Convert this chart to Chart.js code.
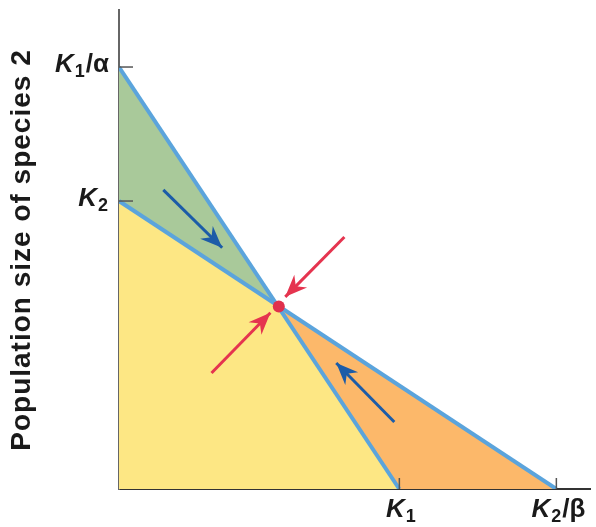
<!DOCTYPE html>
<html>
<head>
<meta charset="utf-8">
<script src="https://cdn.jsdelivr.net/npm/chart.js@4"></script>
<style>
  html, body { margin: 0; padding: 0; background: #fff; }
  #wrap { width: 596px; height: 527px; }
</style>
</head>
<body>
<div id="wrap"><canvas id="chart" width="596" height="527"></canvas></div>
<script>
// Axis extent and key carrying capacities (population units)
const axisMax = 168;
const K1 = 100;          // species 1 carrying capacity (x intercept of isocline 1)
const K2overBeta = 156;  // x intercept of isocline 2
const K1overAlpha = 148; // y intercept of isocline 1
const K2 = 101;          // y intercept of isocline 2
const equilibrium = [{ x: 57, y: 64 }];

// Isoclines
const isocline1 = [{ x: 0, y: K1overAlpha }, { x: K1, y: 0 }];
const isocline2 = [{ x: 0, y: K2 }, { x: K2overBeta, y: 0 }];

// Shaded regions (upper boundary, filled down to the x axis)
const greenEdge = [{ x: 0, y: K1overAlpha }, { x: 57, y: 64 }];
const orangeEdge = [{ x: 57, y: 64 }, { x: K2overBeta, y: 0 }];
const yellowEdge = [{ x: 0, y: K2 }, { x: 57, y: 64 }, { x: K1, y: 0 }];

// Arrows: start -> tip
const blueArrows = [
    [{ x: 15.8, y: 104.9 }, { x: 36.8, y: 84.6 }],
    [{ x: 98.2, y: 23.5 }, { x: 77.5, y: 44.2 }]
];
const redArrows = [
    [{ x: 80.4, y: 88.4 }, { x: 59.3, y: 67.4 }],
    [{ x: 33.0, y: 40.7 }, { x: 54.0, y: 61.8 }]
];

// Tick labels: [main, subscript, suffix]
const xTickValues = [K1, K2overBeta];
const xTickLabels = [['K', '1', ''], ['K', '2', '/\u03B2']];
const yTickValues = [K1overAlpha, K2];
const yTickLabels = [['K', '1', '/\u03B1'], ['K', '2', '']];
const yTitle = 'Population size of species 2';

const FONT = '"Liberation Sans", Arial, sans-serif';
const lineBlue = '#5ba4dc';
const arrowBlue = '#1c5ca8';
const arrowRed = '#e5344f';

function drawRich(ctx, parts, x, y, align) {
    const fonts = ['italic bold 26px ' + FONT, 'bold 18px ' + FONT, 'bold 26px ' + FONT];
    const offsets = [0, 5, 0];
    const gaps = [1, 1, 0];
    let widths = parts.map((t, i) => { ctx.font = fonts[i]; return t ? ctx.measureText(t).width + gaps[i] : 0; });
    const total = widths.reduce((a, b) => a + b, 0);
    let cx = align === 'right' ? x - total : x - total / 2;
    ctx.textBaseline = 'alphabetic';
    ctx.textAlign = 'left';
    parts.forEach((t, i) => {
        if (!t) return;
        ctx.font = fonts[i];
        ctx.fillText(t, cx, y + offsets[i]);
        cx += widths[i];
    });
}

function drawHead(ctx, from, to, color) {
    const ang = Math.atan2(to.y - from.y, to.x - from.x);
    const len = 22, half = 9, notch = 7;
    ctx.save();
    ctx.translate(to.x, to.y);
    ctx.rotate(ang);
    ctx.fillStyle = color;
    ctx.beginPath();
    ctx.moveTo(0, 0);
    ctx.lineTo(-len, -half);
    ctx.lineTo(-len + notch, 0);
    ctx.lineTo(-len, half);
    ctx.closePath();
    ctx.fill();
    ctx.restore();
}

const decorPlugin = {
    id: 'decor',
    afterDatasetsDraw(chart) {
        const ctx = chart.ctx;
        const xs = chart.scales.x, ys = chart.scales.y;
        const area = chart.chartArea;
        ctx.save();
        // arrowheads
        const px = p => ({ x: xs.getPixelForValue(p.x), y: ys.getPixelForValue(p.y) });
        blueArrows.forEach(a => drawHead(ctx, px(a[0]), px(a[1]), arrowBlue));
        redArrows.forEach(a => drawHead(ctx, px(a[0]), px(a[1]), arrowRed));

        // tick marks
        ctx.strokeStyle = '#555';
        ctx.lineWidth = 1.5;
        yTickValues.forEach(v => {
            const y = ys.getPixelForValue(v);
            ctx.beginPath(); ctx.moveTo(area.left, y); ctx.lineTo(area.left + 14, y); ctx.stroke();
        });
        xTickValues.forEach(v => {
            const x = xs.getPixelForValue(v);
            ctx.beginPath(); ctx.moveTo(x, area.bottom); ctx.lineTo(x, area.bottom - 11); ctx.stroke();
        });

        // tick labels
        ctx.fillStyle = '#1a1a1a';
        yTickValues.forEach((v, i) => drawRich(ctx, yTickLabels[i], area.left - 10, ys.getPixelForValue(v) + 5, 'right'));
        xTickValues.forEach((v, i) => drawRich(ctx, xTickLabels[i], xs.getPixelForValue(v) + 2, area.bottom + 28, 'center'));

        // y axis title
        ctx.translate(22, 250);
        ctx.rotate(-Math.PI / 2);
        ctx.font = 'bold 28px ' + FONT;
        ctx.letterSpacing = '1px';
        ctx.textAlign = 'center';
        ctx.textBaseline = 'middle';
        ctx.fillText(yTitle, 0, 0);
        ctx.restore();
    }
};

const regionBase = { showLine: true, pointRadius: 0, borderWidth: 0, fill: 'origin' };
const arrowSets = [];
blueArrows.forEach(a => arrowSets.push({ data: a, showLine: true, pointRadius: 0, borderWidth: 3, borderColor: arrowBlue, fill: false, order: 3 }));
redArrows.forEach(a => arrowSets.push({ data: a, showLine: true, pointRadius: 0, borderWidth: 3, borderColor: arrowRed, fill: false, order: 3 }));

new Chart(document.getElementById('chart'), {
    type: 'scatter',
    data: {
        datasets: [
            Object.assign({ data: greenEdge, backgroundColor: '#a9c99a', order: 10 }, regionBase),
            Object.assign({ data: orangeEdge, backgroundColor: '#fcb86a', order: 9 }, regionBase),
            Object.assign({ data: yellowEdge, backgroundColor: '#fde784', order: 8 }, regionBase),
            { data: isocline1, showLine: true, pointRadius: 0, borderWidth: 4, borderColor: lineBlue, fill: false, order: 5 },
            { data: isocline2, showLine: true, pointRadius: 0, borderWidth: 4, borderColor: lineBlue, fill: false, order: 5 },
            ...arrowSets,
            { data: equilibrium, pointRadius: 6, backgroundColor: '#e0304c', borderWidth: 0, order: 1 }
        ]
    },
    options: {
        responsive: false,
        animation: false,
        layout: { padding: { left: 111, top: 10, right: 0, bottom: 30 } },
        plugins: { legend: { display: false }, tooltip: { enabled: false } },
        scales: {
            x: {
                type: 'linear', min: 0, max: axisMax,
                grid: { display: false },
                border: { display: true, color: '#333', width: 2 },
                ticks: { display: false }
            },
            y: {
                type: 'linear', min: 0, max: axisMax,
                grid: { display: false },
                border: { display: true, color: '#666', width: 2 },
                ticks: { display: false }
            }
        }
    },
    plugins: [decorPlugin]
});
</script>
</body>
</html>
